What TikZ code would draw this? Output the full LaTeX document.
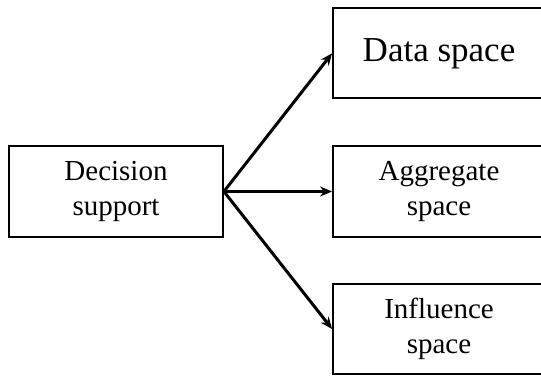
\documentclass[tikz,border=0pt]{standalone}
\usepackage{fontspec}
\setmainfont{Liberation Serif}
\usetikzlibrary{arrows.meta}
\begin{document}
\begin{tikzpicture}[x=1pt,y=-1pt,
  box/.style={draw, line width=1.8pt, rectangle, inner sep=0pt, align=center,
    font=\fontsize{29}{35}\selectfont},
  bigbox/.style={box, font=\fontsize{35}{40}\selectfont},
  conn/.style={line width=3pt, -{Stealth[length=12pt,width=10pt]}}]
\useasboundingbox (0,0) rectangle (541,376);
\node[box, minimum width=214pt, minimum height=91pt] (dec) at (116,191.5) {Decision\\support};
\node[bigbox, minimum width=212pt, minimum height=90pt] (data) at (439,53.3) {Data space};
\node[box, minimum width=212pt, minimum height=91pt] (agg) at (439,191.5) {Aggregate\\space};
\node[box, minimum width=212pt, minimum height=90pt] (inf) at (439,329) {Influence\\space};
\draw[conn] (dec.east) -- (data.west);
\draw[conn] (dec.east) -- (agg.west);
\draw[conn] (dec.east) -- (inf.west);
\end{tikzpicture}
\end{document}
